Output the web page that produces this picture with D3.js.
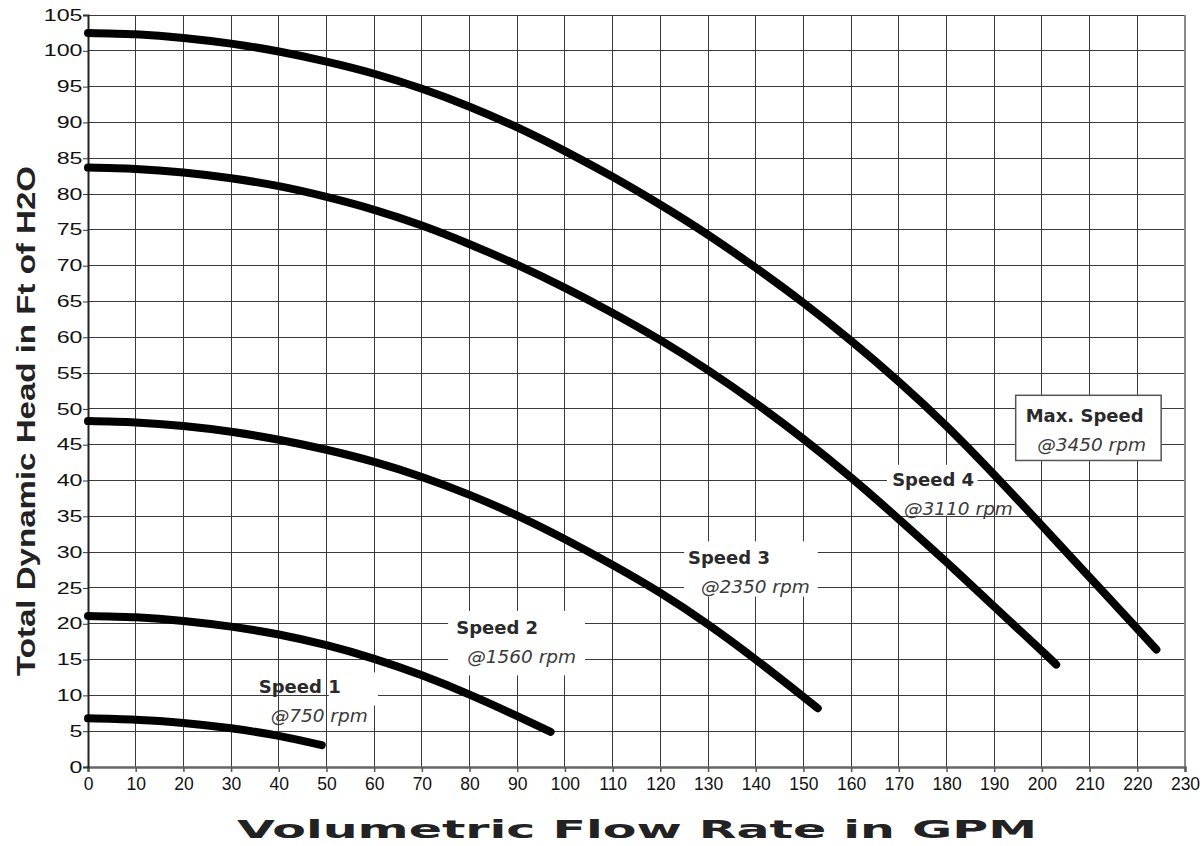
<!DOCTYPE html>
<html>
<head>
<meta charset="utf-8">
<script src="https://cdn.jsdelivr.net/npm/d3@7"></script>
<style>
  body { margin: 0; background: #fff; }
</style>
</head>
<body>
<div id="chart"></div>
<script>
// pump curves: flow (GPM) vs head (ft of H2O)
var flowMax = [0, 10, 20, 30, 40, 50, 60, 70, 80, 90, 100, 110, 120, 130, 140, 150, 160, 170, 180, 190, 200, 210, 220, 224];
var headMax = [102.5, 102.3, 101.8, 101.0, 99.9, 98.5, 96.8, 94.7, 92.2, 89.3, 86.0, 82.4, 78.5, 74.3, 69.7, 64.8, 59.5, 53.8, 47.6, 40.8, 33.7, 26.5, 19.3, 16.4];
var flowS4 = [0, 10, 20, 30, 40, 50, 60, 70, 80, 90, 100, 110, 120, 130, 140, 150, 160, 170, 180, 190, 200, 203];
var headS4 = [83.7, 83.5, 83.0, 82.2, 81.1, 79.6, 77.8, 75.6, 73.0, 70.1, 66.9, 63.4, 59.6, 55.4, 50.8, 45.8, 40.4, 34.6, 28.6, 22.4, 16.2, 14.3];
var flowS3 = [0, 10, 20, 30, 40, 50, 60, 70, 80, 90, 100, 110, 120, 130, 140, 150, 153];
var headS3 = [48.3, 48.1, 47.6, 46.8, 45.7, 44.3, 42.6, 40.5, 38.0, 35.1, 31.8, 28.2, 24.3, 19.9, 15.0, 9.8, 8.2];
var flowS2 = [0, 10, 20, 30, 40, 50, 60, 70, 80, 90, 97];
var headS2 = [21.1, 20.9, 20.4, 19.6, 18.5, 17.0, 15.1, 12.8, 10.1, 7.1, 4.9];
var flowS1 = [0, 10, 20, 30, 40, 49];
var headS1 = [6.8, 6.6, 6.15, 5.4, 4.35, 3.05];

var xTicks = d3.range(0, 231, 10);
var yTicks = d3.range(0, 106, 5);

var speedNames = ["Speed 1", "Speed 2", "Speed 3", "Speed 4", "Max. Speed"];
var speedRpm   = ["@750 rpm", "@1560 rpm", "@2350 rpm", "@3110 rpm", "@3450 rpm"];

var width = 1204, height = 846;
var margin = {top: 15, right: 19, bottom: 79, left: 88};

var svg = d3.select("#chart").append("svg")
    .attr("width", width)
    .attr("height", height)
    .style("font-family", "'Liberation Sans', Arial, sans-serif");

var x = d3.scaleLinear().domain([0, 230]).range([margin.left, width - margin.right]);
var y = d3.scaleLinear().domain([0, 105]).range([height - margin.bottom, margin.top]);

// grid
var grid = svg.append("g").attr("shape-rendering", "crispEdges");
grid.selectAll("line.v").data(xTicks).enter().append("line")
    .attr("x1", d => x(d)).attr("x2", d => x(d))
    .attr("y1", y(0)).attr("y2", y(105))
    .attr("stroke", "#3a3a3a").attr("stroke-width", 1);
grid.selectAll("line.h").data(yTicks).enter().append("line")
    .attr("x1", x(0)).attr("x2", x(230))
    .attr("y1", d => y(d)).attr("y2", d => y(d))
    .attr("stroke", "#3a3a3a").attr("stroke-width", 1);

// frame right side
svg.append("line")
    .attr("x1", x(230)).attr("x2", x(230)).attr("y1", y(0)).attr("y2", y(105))
    .attr("stroke", "#888").attr("stroke-width", 2);

// axes
var xAxis = svg.append("g")
    .attr("transform", "translate(0," + y(0) + ")")
    .call(d3.axisBottom(x).tickValues(xTicks).tickSize(5).tickPadding(6));
var yAxis = svg.append("g")
    .attr("transform", "translate(" + x(0) + ",0)")
    .call(d3.axisLeft(y).tickValues(yTicks).tickSize(5).tickPadding(6));

xAxis.select(".domain").attr("stroke", "#666").attr("stroke-width", 2.5);
yAxis.select(".domain").attr("stroke", "#222").attr("stroke-width", 2);
xAxis.selectAll(".tick line").attr("stroke", "#555").attr("stroke-width", 1.5);
yAxis.selectAll(".tick line").attr("stroke", "#333");
xAxis.selectAll("text").attr("font-size", 17.5).attr("fill", "#111")
    .style("font-family", "'Liberation Sans', Arial, sans-serif");
// y tick labels are drawn wider in the original
var ySx = 1.45;
yAxis.selectAll("text").attr("font-size", 16).attr("fill", "#111")
    .style("font-family", "'Liberation Sans', Arial, sans-serif")
    .attr("x", -5.5 / ySx)
    .attr("transform", "scale(" + ySx + ",1)");

// label boxes (white patches under the curves)
var boxes = [
    {x0: 50.5, x1: 60.8, y0: 8.6, y1: 13.2},
    {x0: 75.5, x1: 104.2, y0: 12.8, y1: 21.8},
    {x0: 125, x1: 153, y0: 23.8, y1: 31.5},
    {x0: 167.5, x1: 186.5, y0: 35.1, y1: 42.2}
];
svg.selectAll("rect.lbl").data(boxes).enter().append("rect")
    .attr("x", d => x(d.x0)).attr("y", d => y(d.y1))
    .attr("width", d => x(d.x1) - x(d.x0)).attr("height", d => y(d.y0) - y(d.y1))
    .attr("fill", "#fff");

// max speed box with border
svg.append("rect")
    .attr("x", x(194.5)).attr("y", y(51.9))
    .attr("width", x(225) - x(194.5)).attr("height", y(42.8) - y(51.9))
    .attr("fill", "#fff").attr("stroke", "#555").attr("stroke-width", 1.5);

// curves
var series = [
    {flow: flowS1, head: headS1},
    {flow: flowS2, head: headS2},
    {flow: flowS3, head: headS3},
    {flow: flowS4, head: headS4},
    {flow: flowMax, head: headMax}
];
var line = d3.line()
    .x(d => x(d[0]))
    .y(d => y(d[1]))
    .curve(d3.curveNatural);

svg.selectAll("path.curve").data(series).enter().append("path")
    .attr("d", d => line(d3.zip(d.flow, d.head)))
    .attr("fill", "none")
    .attr("stroke", "#000")
    .attr("stroke-width", 8)
    .attr("stroke-linecap", "round")
    .attr("stroke-linejoin", "round");

// labels
var labelPos = [
    {nx: 35.8, ny: 10.4, rx: 38.3, ry: 6.3},
    {nx: 77.2, ny: 18.6, rx: 79.5, ry: 14.5},
    {nx: 125.8, ny: 28.4, rx: 128.5, ry: 24.3},
    {nx: 168.6, ny: 39.2, rx: 171.1, ry: 35.2},
    {nx: 196.6, ny: 48.2, rx: 199, ry: 44.1}
];
var lbl = svg.append("g").style("font-family", "'DejaVu Sans', sans-serif");
lbl.selectAll("text.name").data(labelPos).enter().append("text")
    .attr("x", d => x(d.nx)).attr("y", d => y(d.ny))
    .attr("font-size", 18).attr("font-weight", "bold").attr("fill", "#2a2a2a")
    .text((d, i) => speedNames[i]);
lbl.selectAll("text.rpm").data(labelPos).enter().append("text")
    .attr("x", d => x(d.rx)).attr("y", d => y(d.ry))
    .attr("font-size", 18.5).attr("font-style", "italic").attr("fill", "#3a3a3a")
    .text((d, i) => speedRpm[i]);

// axis titles
svg.append("text")
    .attr("x", 637).attr("y", 838)
    .attr("text-anchor", "middle")
    .attr("font-size", 25).attr("font-weight", "bold").attr("fill", "#222")
    .attr("textLength", 800).attr("lengthAdjust", "spacingAndGlyphs")
    .style("font-family", "'DejaVu Sans', sans-serif")
    .text("Volumetric Flow Rate in GPM");

svg.append("text")
    .attr("transform", "translate(35,421) rotate(-90)")
    .attr("text-anchor", "middle")
    .attr("font-size", 25).attr("font-weight", "bold").attr("fill", "#222")
    .attr("textLength", 510).attr("lengthAdjust", "spacingAndGlyphs")
    .text("Total Dynamic Head in Ft of H2O");
</script>
</body>
</html>
